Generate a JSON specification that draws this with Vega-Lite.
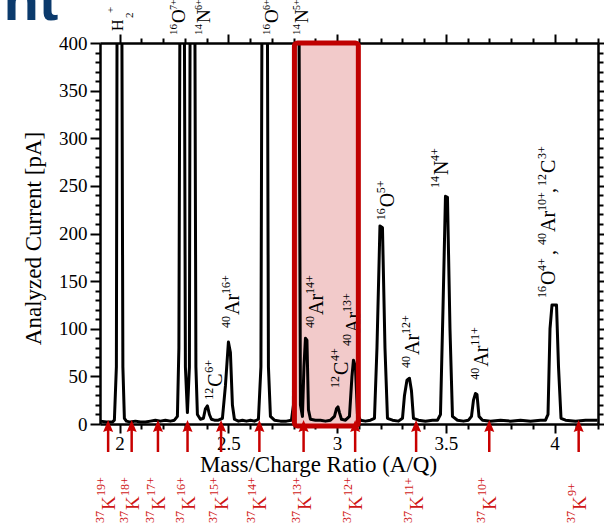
{
  "$schema": "https://vega.github.io/schema/vega-lite/v6.json",
  "width": 498,
  "height": 381,
  "autosize": "none",
  "padding": {"left": 100, "top": 43, "right": 6, "bottom": 102},
  "config": {"view": {"stroke": null}, "font": "Liberation Serif"},
  "datasets": {
    "spectrum": [
      {"aq":1.9117,"current":3},{"aq":1.9393,"current":2},{"aq":1.9669,"current":2},{"aq":1.9761,"current":4},{"aq":1.9853,"current":60},{"aq":1.9899,"current":600},{"aq":2.0083,"current":600},{"aq":2.0152,"current":60},{"aq":2.0221,"current":6},{"aq":2.0313,"current":3},{"aq":2.0497,"current":2},{"aq":2.0727,"current":3},{"aq":2.0957,"current":2},{"aq":2.1187,"current":2},{"aq":2.1417,"current":3},{"aq":2.1647,"current":4},{"aq":2.1877,"current":3},{"aq":2.2107,"current":4},{"aq":2.2337,"current":3},{"aq":2.2521,"current":4},{"aq":2.2659,"current":8},{"aq":2.2728,"current":80},{"aq":2.2797,"current":600},{"aq":2.2958,"current":600},{"aq":2.3027,"current":60},{"aq":2.3119,"current":12},{"aq":2.3211,"current":60},{"aq":2.3257,"current":600},{"aq":2.3441,"current":600},{"aq":2.351,"current":60},{"aq":2.3579,"current":10},{"aq":2.3717,"current":5},{"aq":2.3855,"current":6},{"aq":2.3947,"current":16},{"aq":2.4039,"current":19},{"aq":2.4131,"current":10},{"aq":2.4223,"current":5},{"aq":2.4361,"current":4},{"aq":2.4545,"current":4},{"aq":2.4729,"current":6},{"aq":2.4867,"current":40},{"aq":2.5005,"current":86},{"aq":2.5097,"current":75},{"aq":2.5189,"current":20},{"aq":2.5281,"current":5},{"aq":2.5465,"current":3},{"aq":2.5649,"current":4},{"aq":2.5833,"current":3},{"aq":2.6017,"current":4},{"aq":2.6201,"current":3},{"aq":2.6385,"current":5},{"aq":2.65,"current":60},{"aq":2.6569,"current":600},{"aq":2.6776,"current":600},{"aq":2.6845,"current":60},{"aq":2.6937,"current":8},{"aq":2.7121,"current":4},{"aq":2.7397,"current":3},{"aq":2.7673,"current":3},{"aq":2.7903,"current":4},{"aq":2.7995,"current":20},{"aq":2.8087,"current":600},{"aq":2.8225,"current":600},{"aq":2.8317,"current":20},{"aq":2.8409,"current":8},{"aq":2.8478,"current":60},{"aq":2.8547,"current":90},{"aq":2.8616,"current":88},{"aq":2.8685,"current":15},{"aq":2.8777,"current":5},{"aq":2.9007,"current":4},{"aq":2.9237,"current":4},{"aq":2.9467,"current":3},{"aq":2.9697,"current":4},{"aq":2.9881,"current":8},{"aq":2.9973,"current":16},{"aq":3.0042,"current":18},{"aq":3.0111,"current":12},{"aq":3.0203,"current":5},{"aq":3.0387,"current":4},{"aq":3.0571,"current":8},{"aq":3.0686,"current":50},{"aq":3.0755,"current":67},{"aq":3.0847,"current":60},{"aq":3.0939,"current":10},{"aq":3.1077,"current":4},{"aq":3.1307,"current":3},{"aq":3.1537,"current":4},{"aq":3.1721,"current":6},{"aq":3.1836,"current":80},{"aq":3.1974,"current":208},{"aq":3.2089,"current":206},{"aq":3.2204,"current":80},{"aq":3.2319,"current":6},{"aq":3.2549,"current":4},{"aq":3.2825,"current":3},{"aq":3.3009,"current":6},{"aq":3.3101,"current":30},{"aq":3.3215,"current":46},{"aq":3.333,"current":48},{"aq":3.3422,"current":35},{"aq":3.3514,"current":6},{"aq":3.3744,"current":4},{"aq":3.4066,"current":3},{"aq":3.4388,"current":4},{"aq":3.4618,"current":4},{"aq":3.4756,"current":10},{"aq":3.4871,"current":120},{"aq":3.4986,"current":239},{"aq":3.5078,"current":238},{"aq":3.5193,"current":100},{"aq":3.5308,"current":8},{"aq":3.5538,"current":4},{"aq":3.5814,"current":3},{"aq":3.6044,"current":4},{"aq":3.6182,"current":8},{"aq":3.6274,"current":25},{"aq":3.6366,"current":32},{"aq":3.6435,"current":31},{"aq":3.6527,"current":8},{"aq":3.6688,"current":4},{"aq":3.7056,"current":3},{"aq":3.7516,"current":4},{"aq":3.7976,"current":3},{"aq":3.8436,"current":4},{"aq":3.8896,"current":3},{"aq":3.9356,"current":4},{"aq":3.9586,"current":4},{"aq":3.9701,"current":10},{"aq":3.9793,"current":100},{"aq":3.9885,"current":125},{"aq":4.0092,"current":125},{"aq":4.0184,"current":60},{"aq":4.0299,"current":6},{"aq":4.0506,"current":4},{"aq":4.0966,"current":3},{"aq":4.1426,"current":4},{"aq":4.1978,"current":4}
    ],
    "potassium": [
      {"aq":1.9474,"q":"19+"},{"aq":2.0556,"q":"18+"},{"aq":2.1765,"q":"17+"},{"aq":2.3125,"q":"16+"},{"aq":2.4667,"q":"15+"},{"aq":2.6429,"q":"14+"},{"aq":2.8462,"q":"13+"},{"aq":3.0833,"q":"12+"},{"aq":3.3636,"q":"11+"},{"aq":3.7,"q":"10+"},{"aq":4.1111,"q":"9+"}
    ],
    "inner": [
      {"aq":2.4715,"val":39.2,"pre":"12","el":"C","sup":"6+"},
      {"aq":3.0524,"val":51.4,"pre":"12","el":"C","sup":"4+"},
      {"aq":3.2608,"val":227.5,"pre":"16","el":"O","sup":"5+"},
      {"aq":3.5092,"val":261.4,"pre":"14","el":"N","sup":"4+"},
      {"aq":4.0018,"val":145.9,"pre":"16","el":"O","sup":"4+"},
      {"aq":4.0018,"val":263.5,"pre":"12","el":"C","sup":"3+"}
    ],
    "argon": [
      {"aq":2.5478,"val":114.4,"pre":"40","el":"Ar","sup":"16+"},
      {"aq":2.9374,"val":114.4,"pre":"40","el":"Ar","sup":"14+"},
      {"aq":3.1076,"val":95.5,"pre":"40","el":"Ar","sup":"13+"},
      {"aq":3.3758,"val":72.4,"pre":"40","el":"Ar","sup":"12+"},
      {"aq":3.6964,"val":60.2,"pre":"40","el":"Ar","sup":"11+"},
      {"aq":4.0018,"val":201.6,"pre":"40","el":"Ar","sup":"10+"}
    ],
    "commas": [
      {"aq":4.0018,"val":177.4,"t":","},
      {"aq":4.0018,"val":242.5,"t":","}
    ],
    "top": [
      {"aq":2.3027,"val":421,"pre":"16","el":"O","sup":"7+"},
      {"aq":2.4177,"val":421,"pre":"14","el":"N","sup":"6+"},
      {"aq":2.7305,"val":421,"pre":"16","el":"O","sup":"6+"},
      {"aq":2.8685,"val":421,"pre":"14","el":"N","sup":"5+"}
    ],
    "hydrogen": [
      {"aq":2.0143,"val":412.6,"el":"H","sub":"2","sup":"+"}
    ]
  },
  "resolve": {"axis": {"x": "independent", "y": "independent"}},
  "layer": [
    {
      "data": {"values": [{"x1": 2.804, "x2": 3.098, "y1": -2, "y2": 400}]},
      "mark": {"type": "rect", "fill": "#f2caca", "stroke": null, "cornerRadius": 3},
      "encoding": {
        "x": {"field": "x1", "type": "quantitative", "scale": {"domain": [1.91, 4.2], "nice": false, "zero": false}, "axis": null},
        "x2": {"field": "x2"},
        "y": {"field": "y1", "type": "quantitative", "scale": {"domain": [0, 400], "nice": false, "zero": false}, "axis": null},
        "y2": {"field": "y2"}
      }
    },
    {
      "data": {"values": [{"x": 1.7185, "y": 424.1, "t": "nt"}]},
      "mark": {"type": "text", "align": "right", "baseline": "alphabetic", "font": "Liberation Sans", "fontWeight": "bold", "fontSize": 58, "color": "#0b3a6c"},
      "encoding": {
        "x": {"field": "x", "type": "quantitative", "scale": {"domain": [1.91, 4.2], "nice": false, "zero": false}, "axis": null},
        "y": {"field": "y", "type": "quantitative", "scale": {"domain": [0, 400], "nice": false, "zero": false}, "axis": null},
        "text": {"field": "t"}
      }
    },
    {
      "data": {"name": "spectrum"},
      "mark": {"type": "line", "color": "black", "strokeWidth": 3, "clip": true, "strokeJoin": "round"},
      "encoding": {
        "x": {"field": "aq", "type": "quantitative", "scale": {"domain": [1.91, 4.2], "nice": false, "zero": false},
          "axis": {"orient": "bottom", "values": [2,2.1,2.2,2.3,2.4,2.5,2.6,2.7,2.8,2.9,3,3.1,3.2,3.3,3.4,3.5,3.6,3.7,3.8,3.9,4,4.1,4.2],
            "labelExpr": "abs(datum.value*2 - round(datum.value*2)) < 0.001 ? format(datum.value, '~g') : ''",
            "tickSize": {"condition": {"test": "abs(datum.value*2 - round(datum.value*2)) < 0.001", "value": 9}, "value": 5},
            "tickWidth": 2, "tickColor": "black", "domainColor": "black", "domainWidth": 2.5, "grid": false,
            "labelFont": "Liberation Serif", "labelFontSize": 19, "labelColor": "black", "labelPadding": 1, "labelOverlap": false, "labelFlush": false, "labelBound": false,
            "title": "Mass/Charge Ratio (A/Q)", "titleFont": "Liberation Serif", "titleFontSize": 23, "titleFontWeight": "normal", "titleColor": "black",
            "titleX": 218, "titleY": 47, "titleAlign": "center", "titleBaseline": "alphabetic"}},
        "y": {"field": "current", "type": "quantitative", "scale": {"domain": [0, 400], "nice": false, "zero": false},
          "axis": {"orient": "left", "values": [0,10,20,30,40,50,60,70,80,90,100,110,120,130,140,150,160,170,180,190,200,210,220,230,240,250,260,270,280,290,300,310,320,330,340,350,360,370,380,390,400],
            "labelExpr": "datum.value % 50 === 0 ? datum.label : ''",
            "tickSize": {"condition": {"test": "datum.value % 50 === 0", "value": 10}, "value": 5},
            "tickWidth": 2, "tickColor": "black", "domainColor": "black", "domainWidth": 2.5, "grid": false,
            "labelFont": "Liberation Serif", "labelFontSize": 19, "labelColor": "black", "labelPadding": 3, "labelOverlap": false, "labelFlush": false, "labelBound": false,
            "title": "Analyzed Current [pA]", "titleFont": "Liberation Serif", "titleFontSize": 23, "titleFontWeight": "normal", "titleColor": "black",
            "titleX": -60, "titleY": 195, "titleAngle": 270, "titleAlign": "center", "titleBaseline": "alphabetic"}}
      }
    },
    {
      "data": {"name": "spectrum"},
      "mark": {"type": "point", "opacity": 0},
      "encoding": {
        "x": {"field": "aq", "type": "quantitative", "scale": {"domain": [1.91, 4.2], "nice": false, "zero": false},
          "axis": {"orient": "top", "values": [2,2.1,2.2,2.3,2.4,2.5,2.6,2.7,2.8,2.9,3,3.1,3.2,3.3,3.4,3.5,3.6,3.7,3.8,3.9,4,4.1,4.2],
            "labels": false, "title": null,
            "tickSize": {"condition": {"test": "abs(datum.value*2 - round(datum.value*2)) < 0.001", "value": 9}, "value": 5},
            "tickWidth": 2, "tickColor": "black", "domainColor": "black", "domainWidth": 2.5, "grid": false}},
        "y": {"field": "current", "type": "quantitative", "scale": {"domain": [0, 400], "nice": false, "zero": false},
          "axis": {"orient": "right", "values": [0,10,20,30,40,50,60,70,80,90,100,110,120,130,140,150,160,170,180,190,200,210,220,230,240,250,260,270,280,290,300,310,320,330,340,350,360,370,380,390,400],
            "labels": false, "title": null,
            "tickSize": {"condition": {"test": "datum.value % 50 === 0", "value": 10}, "value": 5},
            "tickWidth": 2, "tickColor": "black", "domainColor": "black", "domainWidth": 2.5, "grid": false}}
      }
    },
    {
      "data": {"name": "inner"},
      "mark": {"type": "text", "angle": 270, "align": "left", "baseline": "alphabetic", "fontSize": 20, "font": "Liberation Serif", "color": "black"},
      "encoding": {
        "x": {"field": "aq", "type": "quantitative", "scale": {"domain": [1.91, 4.2], "nice": false, "zero": false}, "axis": null},
        "y": {"field": "val", "type": "quantitative", "scale": {"domain": [0, 400], "nice": false, "zero": false}, "axis": null},
        "text": {"field": "el"}
      }
    },
    {
      "data": {"name": "inner"},
      "mark": {"type": "text", "angle": 270, "align": "right", "baseline": "alphabetic", "fontSize": 12, "font": "Liberation Serif", "color": "black", "dx": -1, "dy": -9},
      "encoding": {
        "x": {"field": "aq", "type": "quantitative", "scale": {"domain": [1.91, 4.2], "nice": false, "zero": false}, "axis": null},
        "y": {"field": "val", "type": "quantitative", "scale": {"domain": [0, 400], "nice": false, "zero": false}, "axis": null},
        "text": {"field": "pre"}
      }
    },
    {
      "data": {"name": "inner"},
      "mark": {"type": "text", "angle": 270, "align": "left", "baseline": "alphabetic", "fontSize": 12, "font": "Liberation Serif", "color": "black", "dx": 14, "dy": -9},
      "encoding": {
        "x": {"field": "aq", "type": "quantitative", "scale": {"domain": [1.91, 4.2], "nice": false, "zero": false}, "axis": null},
        "y": {"field": "val", "type": "quantitative", "scale": {"domain": [0, 400], "nice": false, "zero": false}, "axis": null},
        "text": {"field": "sup"}
      }
    },
    {
      "data": {"name": "argon"},
      "mark": {"type": "text", "angle": 270, "align": "left", "baseline": "alphabetic", "fontSize": 20, "font": "Liberation Serif", "color": "black"},
      "encoding": {
        "x": {"field": "aq", "type": "quantitative", "scale": {"domain": [1.91, 4.2], "nice": false, "zero": false}, "axis": null},
        "y": {"field": "val", "type": "quantitative", "scale": {"domain": [0, 400], "nice": false, "zero": false}, "axis": null},
        "text": {"field": "el"}
      }
    },
    {
      "data": {"name": "argon"},
      "mark": {"type": "text", "angle": 270, "align": "right", "baseline": "alphabetic", "fontSize": 12, "font": "Liberation Serif", "color": "black", "dx": -1, "dy": -9},
      "encoding": {
        "x": {"field": "aq", "type": "quantitative", "scale": {"domain": [1.91, 4.2], "nice": false, "zero": false}, "axis": null},
        "y": {"field": "val", "type": "quantitative", "scale": {"domain": [0, 400], "nice": false, "zero": false}, "axis": null},
        "text": {"field": "pre"}
      }
    },
    {
      "data": {"name": "argon"},
      "mark": {"type": "text", "angle": 270, "align": "left", "baseline": "alphabetic", "fontSize": 12, "font": "Liberation Serif", "color": "black", "dx": 21, "dy": -9},
      "encoding": {
        "x": {"field": "aq", "type": "quantitative", "scale": {"domain": [1.91, 4.2], "nice": false, "zero": false}, "axis": null},
        "y": {"field": "val", "type": "quantitative", "scale": {"domain": [0, 400], "nice": false, "zero": false}, "axis": null},
        "text": {"field": "sup"}
      }
    },
    {
      "data": {"name": "commas"},
      "mark": {"type": "text", "angle": 270, "align": "left", "baseline": "alphabetic", "fontSize": 20, "font": "Liberation Serif", "color": "black"},
      "encoding": {
        "x": {"field": "aq", "type": "quantitative", "scale": {"domain": [1.91, 4.2], "nice": false, "zero": false}, "axis": null},
        "y": {"field": "val", "type": "quantitative", "scale": {"domain": [0, 400], "nice": false, "zero": false}, "axis": null},
        "text": {"field": "t"}
      }
    },
    {
      "data": {"name": "top"},
      "mark": {"type": "text", "angle": 270, "align": "left", "baseline": "alphabetic", "fontSize": 19, "font": "Liberation Serif", "color": "black"},
      "encoding": {
        "x": {"field": "aq", "type": "quantitative", "scale": {"domain": [1.91, 4.2], "nice": false, "zero": false}, "axis": null},
        "y": {"field": "val", "type": "quantitative", "scale": {"domain": [0, 400], "nice": false, "zero": false}, "axis": null},
        "text": {"field": "el"}
      }
    },
    {
      "data": {"name": "top"},
      "mark": {"type": "text", "angle": 270, "align": "right", "baseline": "alphabetic", "fontSize": 11, "font": "Liberation Serif", "color": "black", "dx": -1, "dy": -8},
      "encoding": {
        "x": {"field": "aq", "type": "quantitative", "scale": {"domain": [1.91, 4.2], "nice": false, "zero": false}, "axis": null},
        "y": {"field": "val", "type": "quantitative", "scale": {"domain": [0, 400], "nice": false, "zero": false}, "axis": null},
        "text": {"field": "pre"}
      }
    },
    {
      "data": {"name": "top"},
      "mark": {"type": "text", "angle": 270, "align": "left", "baseline": "alphabetic", "fontSize": 10, "font": "Liberation Serif", "color": "black", "dx": 13, "dy": -8},
      "encoding": {
        "x": {"field": "aq", "type": "quantitative", "scale": {"domain": [1.91, 4.2], "nice": false, "zero": false}, "axis": null},
        "y": {"field": "val", "type": "quantitative", "scale": {"domain": [0, 400], "nice": false, "zero": false}, "axis": null},
        "text": {"field": "sup"}
      }
    },
    {
      "data": {"name": "hydrogen"},
      "mark": {"type": "text", "angle": 270, "align": "left", "baseline": "alphabetic", "fontSize": 16, "font": "Liberation Serif", "color": "black"},
      "encoding": {
        "x": {"field": "aq", "type": "quantitative", "scale": {"domain": [1.91, 4.2], "nice": false, "zero": false}, "axis": null},
        "y": {"field": "val", "type": "quantitative", "scale": {"domain": [0, 400], "nice": false, "zero": false}, "axis": null},
        "text": {"field": "el"}
      }
    },
    {
      "data": {"name": "hydrogen"},
      "mark": {"type": "text", "angle": 270, "align": "left", "baseline": "alphabetic", "fontSize": 11, "font": "Liberation Serif", "color": "black", "dx": 13, "dy": 10},
      "encoding": {
        "x": {"field": "aq", "type": "quantitative", "scale": {"domain": [1.91, 4.2], "nice": false, "zero": false}, "axis": null},
        "y": {"field": "val", "type": "quantitative", "scale": {"domain": [0, 400], "nice": false, "zero": false}, "axis": null},
        "text": {"field": "sub"}
      }
    },
    {
      "data": {"name": "hydrogen"},
      "mark": {"type": "text", "angle": 270, "align": "left", "baseline": "alphabetic", "fontSize": 11, "font": "Liberation Serif", "color": "black", "dx": 18, "dy": -9},
      "encoding": {
        "x": {"field": "aq", "type": "quantitative", "scale": {"domain": [1.91, 4.2], "nice": false, "zero": false}, "axis": null},
        "y": {"field": "val", "type": "quantitative", "scale": {"domain": [0, 400], "nice": false, "zero": false}, "axis": null},
        "text": {"field": "sup"}
      }
    },
    {
      "data": {"values": [{"x1": 2.804, "x2": 3.098, "y1": -2, "y2": 400}]},
      "mark": {"type": "rect", "fill": null, "fillOpacity": 0, "stroke": "#c00000", "strokeWidth": 5, "cornerRadius": 3},
      "encoding": {
        "x": {"field": "x1", "type": "quantitative", "scale": {"domain": [1.91, 4.2], "nice": false, "zero": false}, "axis": null},
        "x2": {"field": "x2"},
        "y": {"field": "y1", "type": "quantitative", "scale": {"domain": [0, 400], "nice": false, "zero": false}, "axis": null},
        "y2": {"field": "y2"}
      }
    },
    {
      "data": {"name": "potassium"},
      "mark": {"type": "rule", "color": "#c80000", "strokeWidth": 2.5},
      "encoding": {
        "x": {"field": "aq", "type": "quantitative", "scale": {"domain": [1.91, 4.2], "nice": false, "zero": false}, "axis": null},
        "y": {"datum": -29.4, "type": "quantitative", "scale": {"domain": [0, 400], "nice": false, "zero": false}, "axis": null},
        "y2": {"datum": -4}
      }
    },
    {
      "data": {"name": "potassium"},
      "mark": {"type": "point", "shape": "M0,-1L0.72,0.7L0,0.45L-0.72,0.7Z", "size": 196, "filled": true, "color": "#c80000", "opacity": 1, "strokeWidth": 0},
      "encoding": {
        "x": {"field": "aq", "type": "quantitative", "scale": {"domain": [1.91, 4.2], "nice": false, "zero": false}, "axis": null},
        "y": {"datum": -3.2, "type": "quantitative", "scale": {"domain": [0, 400], "nice": false, "zero": false}, "axis": null}
      }
    },
    {
      "data": {"name": "potassium"},
      "mark": {"type": "text", "angle": 270, "align": "left", "baseline": "alphabetic", "fontSize": 19, "font": "Liberation Serif", "color": "#d01818", "dy": 7},
      "encoding": {
        "x": {"field": "aq", "type": "quantitative", "scale": {"domain": [1.91, 4.2], "nice": false, "zero": false}, "axis": null},
        "y": {"datum": -90.3, "type": "quantitative", "scale": {"domain": [0, 400], "nice": false, "zero": false}, "axis": null},
        "text": {"value": "K"}
      }
    },
    {
      "data": {"name": "potassium"},
      "mark": {"type": "text", "angle": 270, "align": "right", "baseline": "alphabetic", "fontSize": 12, "font": "Liberation Serif", "color": "#d01818", "dx": -1, "dy": -4},
      "encoding": {
        "x": {"field": "aq", "type": "quantitative", "scale": {"domain": [1.91, 4.2], "nice": false, "zero": false}, "axis": null},
        "y": {"datum": -90.3, "type": "quantitative", "scale": {"domain": [0, 400], "nice": false, "zero": false}, "axis": null},
        "text": {"value": "37"}
      }
    },
    {
      "data": {"name": "potassium"},
      "mark": {"type": "text", "angle": 270, "align": "left", "baseline": "alphabetic", "fontSize": 12, "font": "Liberation Serif", "color": "#d01818", "dx": 14, "dy": -3},
      "encoding": {
        "x": {"field": "aq", "type": "quantitative", "scale": {"domain": [1.91, 4.2], "nice": false, "zero": false}, "axis": null},
        "y": {"datum": -90.3, "type": "quantitative", "scale": {"domain": [0, 400], "nice": false, "zero": false}, "axis": null},
        "text": {"field": "q"}
      }
    }
  ]
}
